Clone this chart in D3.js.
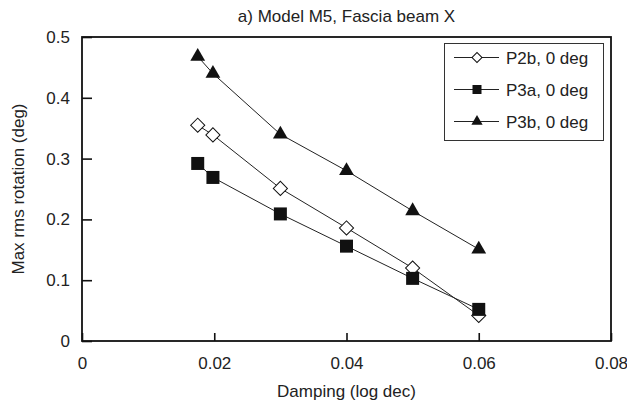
<!DOCTYPE html>
<html><head><meta charset="utf-8">
<script src="https://cdn.jsdelivr.net/npm/d3@7"></script>
<style>body{margin:0;background:#fff}text{font-family:"Liberation Sans",Arial,sans-serif;fill:#222}</style>
</head><body>
<svg id="c" width="627" height="405"></svg>
<script>
const title = "a) Model M5, Fascia beam X";
const xLabel = "Damping (log dec)";
const yLabel = "Max rms rotation (deg)";
const xTicks = [0, 0.02, 0.04, 0.06, 0.08];
const yTicks = [0, 0.1, 0.2, 0.3, 0.4, 0.5];
const seriesNames = ["P2b, 0 deg", "P3a, 0 deg", "P3b, 0 deg"];
const damping = [0.0175, 0.0198, 0.03, 0.04, 0.05, 0.06];
const p2b = [0.355, 0.339, 0.251, 0.186, 0.120, 0.042];
const p3a = [0.292, 0.269, 0.209, 0.156, 0.103, 0.052];
const p3b = [0.468, 0.440, 0.340, 0.280, 0.214, 0.151];

const svg = d3.select("#c");
const L = 82, R = 611, T = 37, B = 341;
const x = d3.scaleLinear().domain([0, 0.08]).range([L, R]);
const y = d3.scaleLinear().domain([0, 0.5]).range([B, T]);
const fs = 17;

svg.append("text").attr("x", (L + R) / 2).attr("y", 22).attr("text-anchor", "middle")
  .style("font-size", fs + "px").text(title);

// ticks (inward)
const xa = svg.append("g").attr("transform", `translate(0,${B})`)
  .call(d3.axisBottom(x).tickValues(xTicks).tickSizeInner(-8).tickSizeOuter(0).tickPadding(16).tickFormat(d => d === 0 ? "0" : d3.format(".2f")(d)));
const ya = svg.append("g").attr("transform", `translate(${L},0)`)
  .call(d3.axisLeft(y).tickValues(yTicks).tickSizeInner(-10).tickSizeOuter(0).tickPadding(12).tickFormat(d => d === 0 ? "0" : d3.format(".1f")(d)));
[xa, ya].forEach(a => {
  a.select(".domain").remove();
  a.selectAll(".tick line").attr("stroke", "#111").attr("stroke-width", 1.6);
  a.selectAll(".tick text").style("font-size", fs + "px").attr("fill", "#222").style("font-family", '"Liberation Sans",Arial,sans-serif');
});
// frame
svg.append("rect").attr("x", L).attr("y", T).attr("width", R - L).attr("height", B - T)
  .attr("fill", "none").attr("stroke", "#111").attr("stroke-width", 1.8);

svg.append("text").attr("x", (L + R) / 2).attr("y", 397).attr("text-anchor", "middle")
  .style("font-size", fs + "px").text(xLabel);
svg.append("text").attr("transform", `translate(24,${(T + B) / 2}) rotate(-90)`).attr("text-anchor", "middle")
  .style("font-size", fs + "px").text(yLabel);

const series = [
  {name: seriesNames[0], vals: p2b, type: "diamond"},
  {name: seriesNames[1], vals: p3a, type: "square"},
  {name: seriesNames[2], vals: p3b, type: "triangle"}
];
function marker(g, type, big) {
  if (type === "diamond") {
    g.append("path").attr("d", d3.symbol(d3.symbolSquare, big ? 100 : 50)()).attr("transform", "rotate(45)")
      .attr("fill", "#fff").attr("stroke", "#111").attr("stroke-width", 1);
  } else if (type === "square") {
    g.append("path").attr("d", d3.symbol(d3.symbolSquare, big ? 169 : 81)()).attr("fill", "#111");
  } else {
    g.append("path").attr("d", d3.symbol(d3.symbolTriangle, big ? 95 : 55)()).attr("fill", "#111");
  }
}
const line = d3.line().x(d => x(d[0])).y(d => y(d[1]));
series.forEach(s => {
  const pts = damping.map((d, i) => [d, s.vals[i]]);
  svg.append("path").attr("d", line(pts)).attr("fill", "none").attr("stroke", "#222").attr("stroke-width", 1);
});
series.forEach(s => {
  damping.forEach((d, i) => {
    const g = svg.append("g").attr("transform", `translate(${x(d)},${y(s.vals[i])})`);
    marker(g, s.type, true);
  });
});

// legend
const lg = svg.append("g");
lg.append("rect").attr("x", 444.5).attr("y", 43.5).attr("width", 159).attr("height", 97)
  .attr("fill", "#fff").attr("stroke", "#333").attr("stroke-width", 1);
series.forEach((s, i) => {
  const cy = 57.5 + i * 32;
  lg.append("line").attr("x1", 454).attr("x2", 499).attr("y1", cy).attr("y2", cy).attr("stroke", "#222").attr("stroke-width", 1);
  const g = lg.append("g").attr("transform", `translate(477,${cy})`);
  marker(g, s.type, false);
  lg.append("text").attr("x", 506).attr("y", cy + 6).style("font-size", fs + "px").text(s.name);
});
</script>
</body></html>
